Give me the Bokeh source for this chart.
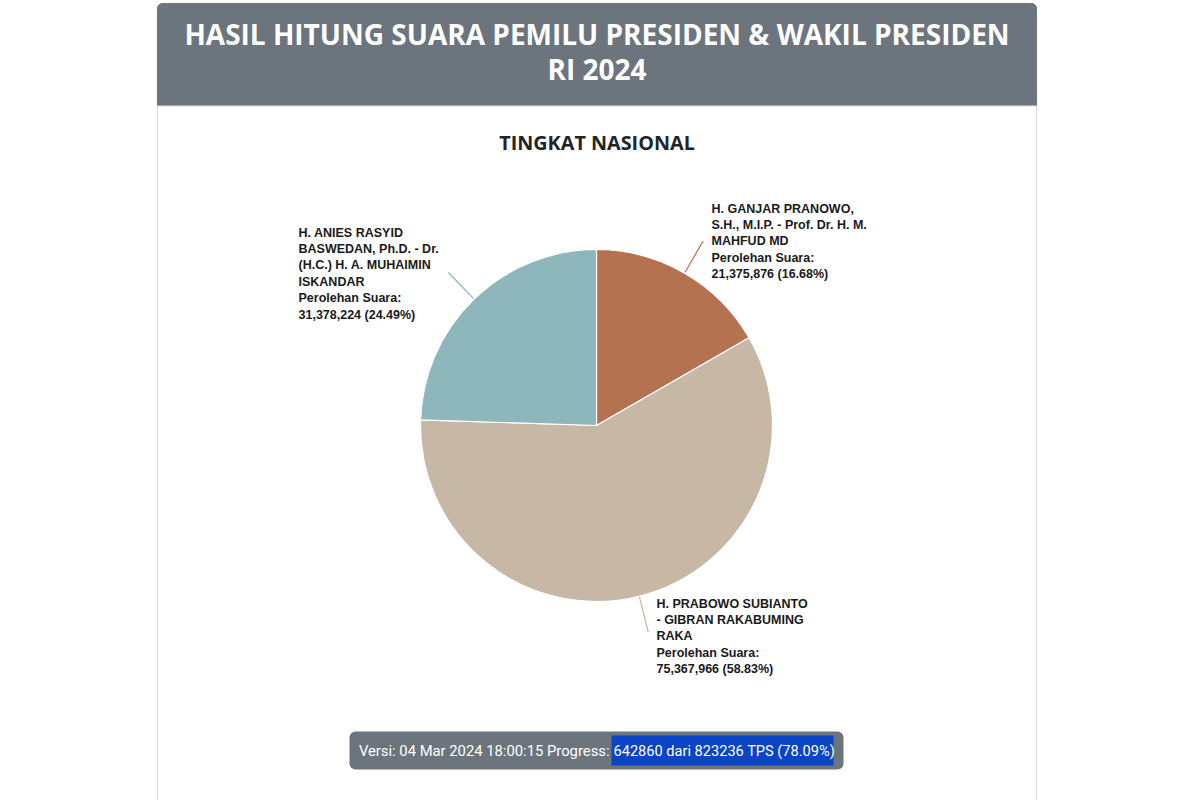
import math
from bokeh.plotting import figure
from bokeh.models import Range1d
from bokeh.core.properties import value
from bokeh.embed import file_html
from bokeh.resources import INLINE

# ---- data ----
title_lines = ["HASIL HITUNG SUARA PEMILU PRESIDEN & WAKIL PRESIDEN", "RI 2024"]
subtitle = "TINGKAT NASIONAL"
names = [
    "H. GANJAR PRANOWO,\nS.H., M.I.P. - Prof. Dr. H. M.\nMAHFUD MD",
    "H. PRABOWO SUBIANTO\n- GIBRAN RAKABUMING\nRAKA",
    "H. ANIES RASYID\nBASWEDAN, Ph.D. - Dr.\n(H.C.) H. A. MUHAIMIN\nISKANDAR",
]
votes = [21375876, 75367966, 31378224]
colors = ["#b57250", "#c7b7a5", "#8eb7bc"]
version = "04 Mar 2024 18:00:15"
tps_done = 642860
tps_total = 823236

# ---- layout helpers (screen coords, y down) ----
H = 800
def Y(v):
    return H - v

p = figure(width=1200, height=800, x_range=Range1d(0, 1200), y_range=Range1d(0, 800),
           output_backend="svg", toolbar_location=None, min_border=0,
           x_axis_location=None, y_axis_location=None)
p.grid.visible = False
p.outline_line_color = None
p.background_fill_color = "white"
p.border_fill_color = "white"

TITLE_FONT = value("Open Sans")
LABEL_FONT = value("Liberation Sans")

# card
cl, cr = 157, 1036
p.quad(left=[cl], right=[cr], top=[Y(3)], bottom=[Y(830)], fill_color="white",
       line_color="#dcdcdc", line_width=1, border_radius=5)
p.quad(left=[cl], right=[cr], top=[Y(3)], bottom=[Y(105)], fill_color="#6c757d",
       line_color="#6c757d", border_radius=5)
p.quad(left=[cl], right=[cr], top=[Y(90)], bottom=[Y(105)], fill_color="#6c757d",
       line_color="#6c757d")
p.segment(x0=[cl], x1=[cr], y0=[Y(105.5)], y1=[Y(105.5)], line_color="#e0e0e0", line_width=1)

cx = (cl + cr) / 2
for i, t in enumerate(title_lines):
    p.text(x=[cx], y=[Y(33.5 + 35 * i)], text=[t], text_align="center", text_baseline="middle",
           text_font=TITLE_FONT, text_font_style="bold", text_font_size="28px", text_color="white")

p.text(x=[cx], y=[Y(142)], text=[subtitle], text_align="center", text_baseline="middle",
       text_font=TITLE_FONT, text_font_style="bold", text_font_size="19.8px", text_color="#212529")

# pie
pcx, pcy, R = 596, Y(425), 176
total = sum(votes)
cum = 0.0
starts, ends, mids = [], [], []
for v in votes:
    f0 = cum / total
    cum += v
    f1 = cum / total
    starts.append(math.pi / 2 - f1 * 2 * math.pi)
    ends.append(math.pi / 2 - f0 * 2 * math.pi)
    mids.append(math.pi / 2 - (f0 + f1) / 2 * 2 * math.pi)

p.wedge(x=[pcx] * 3, y=[pcy] * 3, radius=R, start_angle=starts, end_angle=ends,
        fill_color=colors, line_color="white", line_width=1.2)

# connectors
r0, r1 = R + 1, R + 37
x0 = [pcx + r0 * math.cos(a) for a in mids]
y0 = [pcy + r0 * math.sin(a) for a in mids]
x1 = [pcx + r1 * math.cos(a) for a in mids]
y1 = [pcy + r1 * math.sin(a) for a in mids]
p.segment(x0=x0, y0=y0, x1=x1, y1=y1, line_color=colors, line_width=1.2)

# labels (anchor: left x, first line center y)
anchors = [(711, 208), (656, 603), (298, 232)]
step = 16.4
for name, v, (ax, ay) in zip(names, votes, anchors):
    lines = name.split("\n") + ["Perolehan Suara:", f"{v:,} ({v / total * 100:.2f}%)"]
    p.text(x=[ax] * len(lines), y=[Y(ay + step * k) for k in range(len(lines))], text=lines,
           text_align="left", text_baseline="middle", text_font=LABEL_FONT,
           text_font_style="bold", text_font_size="12.5px", text_color="#1a1a1a")

# bottom badge
p.quad(left=[349], right=[843], top=[Y(731)], bottom=[Y(769)], fill_color="#6c757d",
       line_color=None, border_radius=6)
p.quad(left=[611], right=[833], top=[Y(735)], bottom=[Y(765)], fill_color="#0b45c5",
       line_color=None)
part1 = f"Versi: {version} Progress: "
part2 = f"{tps_done} dari {tps_total} TPS ({tps_done / tps_total * 100:.2f}%)"
p.text(x=[609], y=[Y(750)], text=[part1.rstrip()], text_align="right", text_baseline="middle",
       text_font=value("Roboto"), text_font_size="14.8px", text_color="white")
p.text(x=[613], y=[Y(750)], text=[part2], text_align="left", text_baseline="middle",
       text_font=value("Roboto"), text_font_size="14.6px", text_color="white")

open("out.html", "w").write(file_html(p, INLINE))
